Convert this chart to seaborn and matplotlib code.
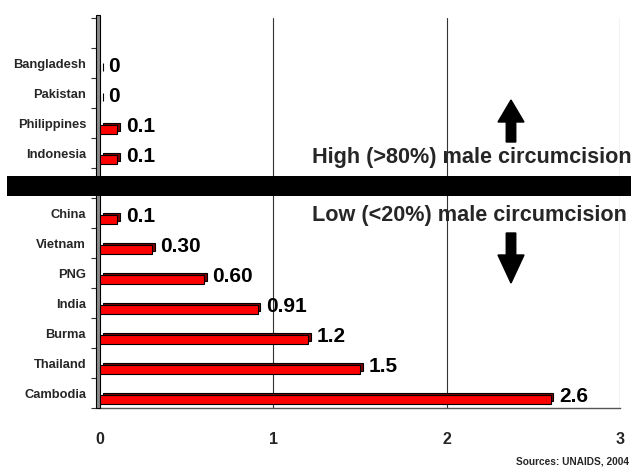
import matplotlib
matplotlib.use("Agg")
import matplotlib.pyplot as plt
import matplotlib.transforms as mtransforms
from matplotlib.patches import Rectangle, FancyArrow
import pandas as pd
import seaborn as sns

# HIV prevalence (%) by country, grouped by male circumcision level
countries = ["Bangladesh", "Pakistan", "Philippines", "Indonesia",
             "China", "Vietnam", "PNG", "India", "Burma", "Thailand", "Cambodia"]
prevalence = [0, 0, 0.1, 0.1, 0.1, 0.30, 0.60, 0.91, 1.2, 1.5, 2.6]
value_labels = ["0", "0", "0.1", "0.1", "0.1", "0.30", "0.60", "0.91", "1.2", "1.5", "2.6"]
# row order, with blank rows at the top and between the two groups
row_order = [" ", "Bangladesh", "Pakistan", "Philippines", "Indonesia", "  ",
             "China", "Vietnam", "PNG", "India", "Burma", "Thailand", "Cambodia"]
x_ticks = [0, 1, 2, 3]

sns.set_style("white")
plt.rcParams["font.family"] = ["Liberation Sans", "DejaVu Sans"]
plt.rcParams["font.weight"] = "bold"

W, H = 631, 467
fig = plt.figure(figsize=(W / 100, H / 100), dpi=100)
ax = fig.add_axes([100 / W, 59 / H, 520 / W, 390 / H])

df = pd.DataFrame({"country": countries, "value": prevalence})
sns.barplot(data=df, y="country", x="value", order=row_order, orient="h",
            color="#FF0000", saturation=1, width=0.27, edgecolor="black",
            linewidth=0.8, ax=ax, zorder=4)

# 3-D look: front face nudged down, dark side/top offset up-right behind it
dpi_t = fig.dpi_scale_trans
front_t = ax.transData + mtransforms.ScaledTranslation(0, -0.065, dpi_t)
back_t = ax.transData + mtransforms.ScaledTranslation(0.025, -0.04, dpi_t)
for bar in list(ax.patches):
    shadow = Rectangle(bar.get_xy(), bar.get_width(), bar.get_height(),
                       facecolor="#7a0000", edgecolor="black", linewidth=0.8,
                       transform=back_t, zorder=3.5, clip_on=False)
    ax.add_patch(shadow)
    bar.set_transform(front_t)
    bar.set_clip_on(False)

ax.set_xlim(0, 3)
ax.set_ylim(len(row_order) - 0.5, -0.5)
ax.set_xlabel("")
ax.set_ylabel("")

# value labels at the bar ends
pos = {c: i for i, c in enumerate(row_order)}
for c, v, lab in zip(countries, prevalence, value_labels):
    ax.annotate(lab, xy=(v, pos[c] + 0.1), xytext=(6, 0), textcoords="offset points",
                ha="left", va="center", fontsize=15, fontweight="bold",
                color="black", zorder=6, annotation_clip=False)

# vertical gridlines
for gx in x_ticks[1:]:
    ax.axvline(gx, color="#333333", linewidth=0.8, zorder=1)

for s in ["top", "right", "left"]:
    ax.spines[s].set_visible(False)
ax.spines["bottom"].set_color("#555555")
ax.spines["bottom"].set_linewidth(1.0)

ax.set_xticks(x_ticks)
ax.set_xticklabels([str(t) for t in x_ticks], fontsize=11.5, fontweight="bold")
ax.tick_params(axis="x", direction="out", length=5, width=0.8, color="#333333", pad=12)
ax.tick_params(axis="y", which="major", length=0, pad=10, labelsize=9.3)
for t in ax.get_yticklabels():
    t.set_fontweight("bold")
ax.set_yticks([i + 0.5 for i in range(-1, len(row_order))], minor=True)
ax.tick_params(axis="y", which="minor", direction="out", length=6.5, width=0.8,
               color="#333333", left=True)

# grey side wall along the category axis
wall_t = mtransforms.blended_transform_factory(ax.transAxes, ax.transAxes)
ax.add_patch(Rectangle((-0.0077, 0), 0.0077, 1.008, facecolor="#8c8c8c",
                       edgecolor="black", linewidth=0.8, transform=wall_t,
                       zorder=3, clip_on=False))

# black divider between the two groups
fig.patches.append(Rectangle((7 / W, (H - 196) / H), 1, 20 / H, facecolor="black",
                             edgecolor="none", transform=fig.transFigure, zorder=5))

fig.text(312 / W, (H - 157) / H, "High (>80%) male circumcision", fontsize=15.6,
         fontweight="bold", ha="left", va="center")
fig.text(312 / W, (H - 215) / H, "Low (<20%) male circumcision", fontsize=15.6,
         fontweight="bold", ha="left", va="center")

# direction arrows
fig.patches.append(FancyArrow(5.11, (H - 142) / 100, 0, 0.42, width=0.095,
                              head_width=0.26, head_length=0.22,
                              length_includes_head=True, color="black",
                              transform=dpi_t))
fig.patches.append(FancyArrow(5.11, (H - 233) / 100, 0, -0.50, width=0.095,
                              head_width=0.26, head_length=0.28,
                              length_includes_head=True, color="black",
                              transform=dpi_t))

fig.text(629 / W, 1 / H, "Sources: UNAIDS, 2004", fontsize=7.3, fontweight="bold",
         ha="right", va="bottom")

fig.savefig("out.png", dpi=100)
